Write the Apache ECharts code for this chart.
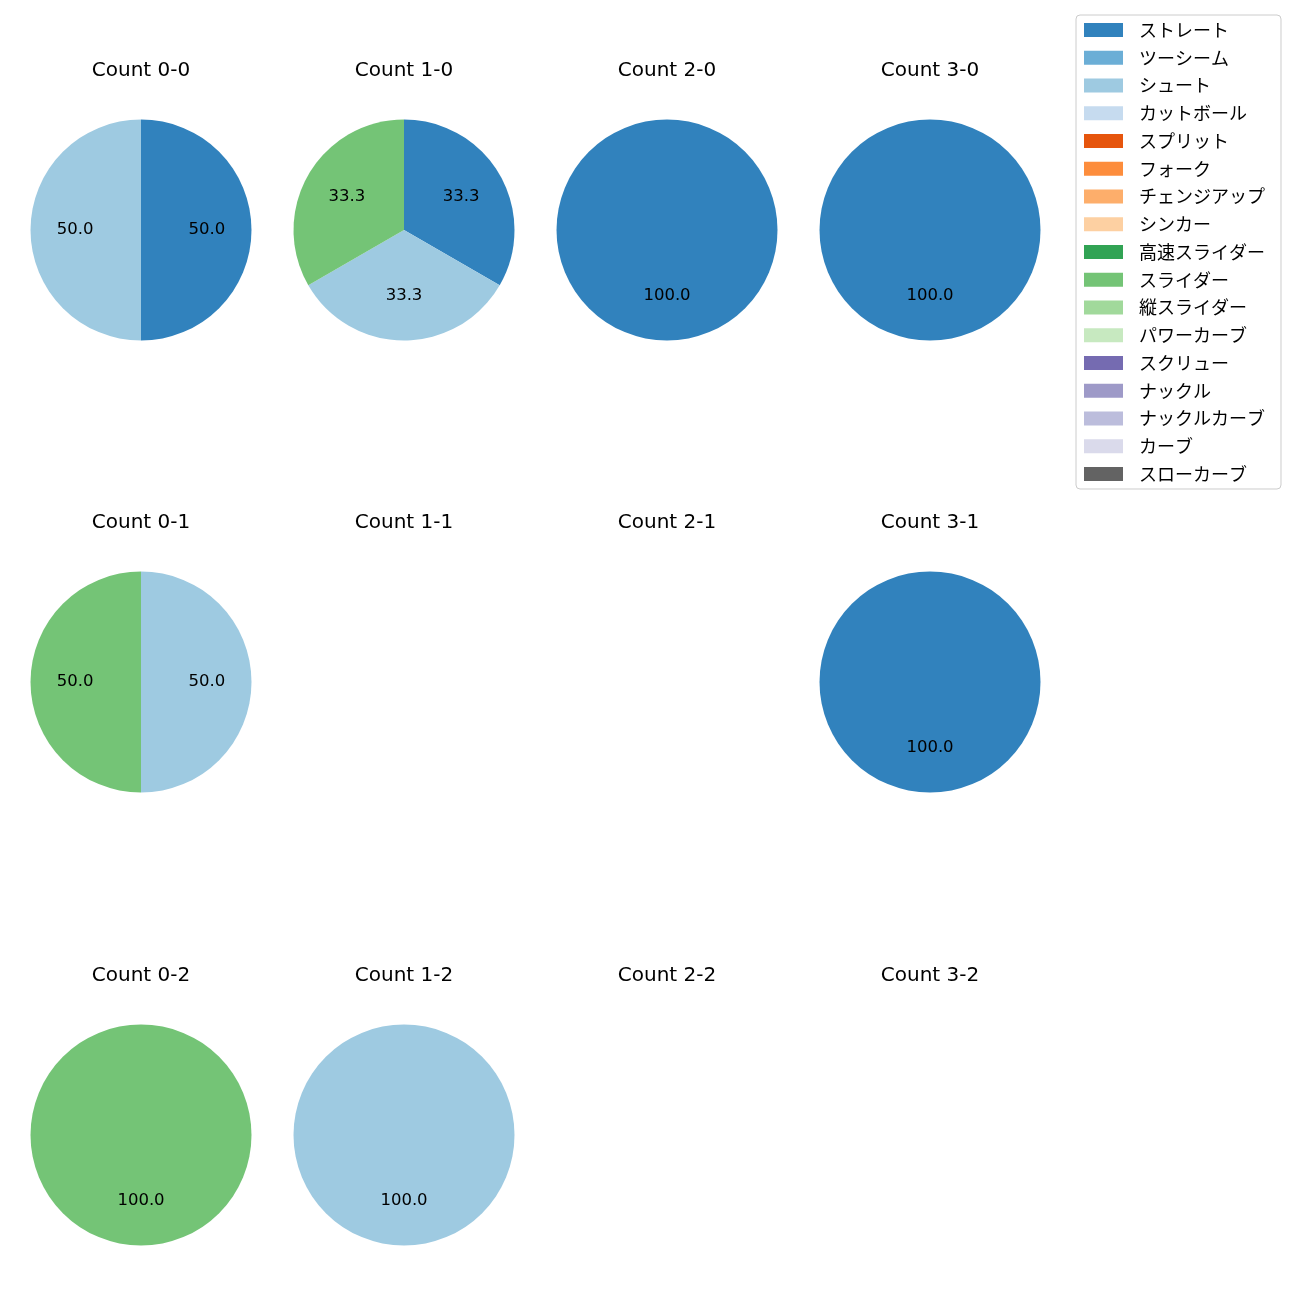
<!DOCTYPE html>
<html><head><meta charset="utf-8">
<script src="https://cdn.jsdelivr.net/npm/echarts@6/dist/echarts.min.js"></script>
<style>html,body{margin:0;padding:0;background:#fff}#c{width:1300px;height:1300px}</style>
</head><body><div id="c"></div>
<script>
const pitchNames = ['ストレート','ツーシーム','シュート','カットボール','スプリット','フォーク','チェンジアップ','シンカー','高速スライダー','スライダー','縦スライダー','パワーカーブ','スクリュー','ナックル','ナックルカーブ','カーブ','スローカーブ'];
const pitchColors = ['#3182bd','#6baed6','#9ecae1','#c6dbef','#e6550d','#fd8d3c','#fdae6b','#fdd0a2','#31a354','#74c476','#a1d99b','#c7e9c0','#756bb1','#9e9ac8','#bcbddc','#dadaeb','#636363'];
const panelTitles = ['Count 0-0','Count 1-0','Count 2-0','Count 3-0','Count 0-1','Count 1-1','Count 2-1','Count 3-1','Count 0-2','Count 1-2','Count 2-2','Count 3-2'];
// pitch counts per panel, keyed by pitch name
const panelCounts = [
  {'ストレート':1,'シュート':1},
  {'ストレート':1,'シュート':1,'スライダー':1},
  {'ストレート':1},
  {'ストレート':1},
  {'シュート':1,'スライダー':1},
  {},
  {},
  {'ストレート':1},
  {'スライダー':1},
  {'シュート':1},
  {},
  {}
];
const colX = [141, 404, 667, 930];
const rowY = [230, 682, 1135];
const R = 110.5;

const latin = "'DejaVu Sans', 'Noto Sans CJK JP', sans-serif";
const cjk = "'Noto Sans CJK JP', 'DejaVu Sans', sans-serif";
const series = [];
// legend provider (invisible)
series.push({
  type:'pie', radius:[0,0], center:[-500,-500], silent:true, label:{show:false}, labelLine:{show:false},
  data: pitchNames.map((n,i)=>({name:n, value:1, itemStyle:{color:pitchColors[i]}}))
});
const titles = [];
panelTitles.forEach((t, k) => {
  const cx = colX[k % 4], cy = rowY[Math.floor(k / 4)];
  titles.push({text:t, left:cx, top:cy-169, textAlign:'center', padding:0,
    textStyle:{fontFamily:latin, fontSize:20, fontWeight:'normal', color:'#000'}});
  const data = [];
  pitchNames.forEach((n,i)=>{ if (panelCounts[k][n]) data.push({name:n, value:panelCounts[k][n], itemStyle:{color:pitchColors[i]}}); });
  if (!data.length) return;
  const total = data.reduce((a,d)=>a+d.value,0);
  series.push({
    type:'pie', center:[cx,cy], radius:[0,R], startAngle:90, clockwise:true, silent:true,
    label:{show:false}, labelLine:{show:false}, avoidLabelOverlap:false,
    itemStyle:{borderWidth:0}, emphasis:{disabled:true}, data:data
  });
  series.push({
    type:'pie', center:[cx,cy], radius:[R*0.14,R], startAngle:90, clockwise:true, silent:true,
    avoidLabelOverlap:false, labelLine:{show:false}, emphasis:{disabled:true},
    label:{show:true, position:'inside', fontFamily:latin, fontSize:16.5, color:'#000',
      formatter:p=>(p.value/total*100).toFixed(1)},
    itemStyle:{color:'rgba(0,0,0,0)', borderWidth:0},
    data:data.map(d=>({name:d.name, value:d.value, itemStyle:{color:'rgba(0,0,0,0)'}}))
  });
});
const chart = echarts.init(document.getElementById('c'), null, {renderer:'canvas'});
chart.setOption({
  animation:false,
  backgroundColor:'#fff',
  title:titles,
  legend:{
    orient:'vertical', left:1076, top:15, data:pitchNames,
    itemWidth:39, itemHeight:14, itemGap:9.75, icon:'rect',
    padding:[6,16,6,8], backgroundColor:'#fff', borderColor:'#cccccc', borderWidth:1, borderRadius:4,
    selectedMode:false,
    textStyle:{fontFamily:cjk, fontSize:18, color:'#000', padding:[0,0,0,11]}
  },
  series:series
});
</script></body></html>
